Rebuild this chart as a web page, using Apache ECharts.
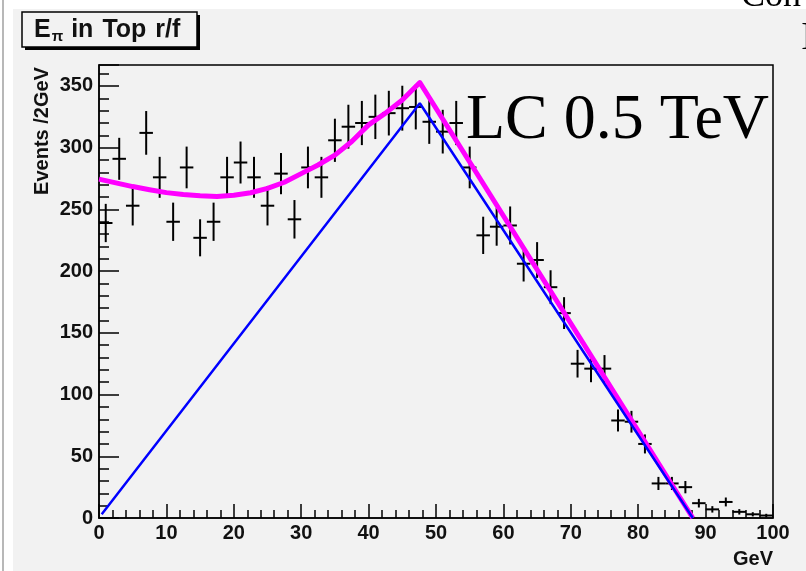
<!DOCTYPE html>
<html>
<head>
<meta charset="utf-8">
<script src="https://cdn.jsdelivr.net/npm/echarts@6/dist/echarts.min.js"></script>
<style>
  html,body{margin:0;padding:0;background:#fff;}
  #wrap{position:relative;width:806px;height:571px;overflow:hidden;background:#fff;}
  #bg{position:absolute;left:13px;top:9px;width:793px;height:562px;background:#f2f2f2;}
  #vline{position:absolute;left:2px;top:0;width:2px;height:571px;background:#b8b8b8;}
  #chart{position:absolute;left:0;top:0;width:806px;height:571px;}
</style>
</head>
<body>
<div id="wrap">
  <div id="bg"></div>
  <div id="vline"></div>
  <div id="chart"></div>
</div>
<script>
// ---- data ----
const binWidth = 2;
const binCenters = [1,3,5,7,9,11,13,15,17,19,21,23,25,27,29,31,33,35,37,39,41,43,45,47,49,
                    51,53,55,57,59,61,63,65,67,69,71,73,75,77,79,81,83,85,87,89,91,93,95,97,99];
const counts = [239,291,253,312,276,240,284,227,240,276,288,276,253,279,242,284,276,306,317,320,325,328,332,333,321,
                313,320,284,229,236,237,206,209,187,166,125,121,121,79,78,60,28,28,25,12,7,13,5,3,2];
const errors = [15.5,17,16,17.7,16.6,15.5,16.9,15,15.5,16.6,17,16.6,16,16.7,15.6,16.9,16.6,17.5,17.8,17.9,18,18.1,18.2,18.2,17.9,
                17.7,17.9,16.9,15.1,15.4,15.4,14.4,14.5,13.7,12.9,11.2,11,11,8.9,8.8,7.7,5.3,5.3,5,3.5,2.6,3.6,2.2,1.7,1.4];
const fitX = [0,2.5,5,7.5,10,12.5,15,17.5,20,22.5,25,27.5,30,32.5,35,37.5,40,42.5,45,47.6,88.1];
const fitY = [274.5,271.5,268.5,266,263.6,262,261,260.5,261.5,263.5,267,272,279,286,294,305,318.5,328,338.7,352.8,0];
const sigX = [0.4,47.6,88.1];
const sigY = [3,336,0];
const xTicks = {min:0, max:100, major:10, minor:2};
const yTicks = {min:0, max:367, major:50, minor:10};

const crossData = binCenters.map((c,i)=>[c, counts[i], errors[i]]);
const fitData = fitX.map((x,i)=>[x, fitY[i]]);
const sigData = sigX.map((x,i)=>[x, sigY[i]]);

const chart = echarts.init(document.getElementById('chart'), null, {renderer:'canvas'});
const labelFont = {fontFamily:'Liberation Sans', fontWeight:'bold', fontSize:20, color:'#111'};

const option = {
  backgroundColor:'transparent',
  animation:false,
  grid:{left:99, right:33, top:65, bottom:53, show:true, borderColor:'#000', borderWidth:1.5, backgroundColor:'transparent'},
  xAxis:[{
    type:'value', min:xTicks.min, max:xTicks.max, interval:xTicks.major, position:'bottom',
    axisLine:{show:true, onZero:false, lineStyle:{color:'#000', width:1.5}},
    axisTick:{show:true, inside:true, length:14, lineStyle:{color:'#000', width:1.5}},
    minorTick:{show:true, splitNumber:xTicks.major/xTicks.minor, length:8, lineStyle:{color:'#000', width:1.5}},
    splitLine:{show:false},
    axisLabel:Object.assign({margin:5}, labelFont)
  }],
  yAxis:[{
    type:'value', min:yTicks.min, max:yTicks.max, interval:yTicks.major, position:'left',
    axisLine:{show:true, onZero:false, lineStyle:{color:'#000', width:1.5}},
    axisTick:{show:true, inside:true, length:20, lineStyle:{color:'#000', width:1.5}},
    splitLine:{show:false},
    axisLabel:Object.assign({margin:6, formatter:v=> (v % yTicks.major === 0 ? String(v) : '')}, labelFont)
  },{
    type:'value', min:yTicks.min, max:yTicks.max, interval:yTicks.minor, position:'left', offset:0,
    axisLine:{show:false},
    axisTick:{show:true, inside:true, length:10, lineStyle:{color:'#000', width:1.5}},
    splitLine:{show:false},
    axisLabel:{show:false}
  }],
  series:[{
    type:'custom', xAxisIndex:0, yAxisIndex:0, data:crossData, z:3,
    renderItem:function(params, api){
      const x = api.value(0), y = api.value(1), e = api.value(2);
      const l = api.coord([x-binWidth/2, y]), r = api.coord([x+binWidth/2, y]);
      const t = api.coord([x, y+e]), b = api.coord([x, Math.max(0, y-e)]);
      return {type:'group', children:[
        {type:'line', shape:{x1:l[0],y1:l[1],x2:r[0],y2:r[1]}, style:{stroke:'#000', lineWidth:2}},
        {type:'line', shape:{x1:t[0],y1:t[1],x2:b[0],y2:b[1]}, style:{stroke:'#000', lineWidth:2}}
      ]};
    }
  },{
    type:'line', data:fitData, symbol:'none', z:4,
    lineStyle:{color:'#ff00ff', width:5, join:'round'}
  },{
    type:'line', data:sigData, symbol:'none', z:5,
    lineStyle:{color:'#0000ff', width:2.5}
  }],
  graphic:[
    {type:'rect', shape:{x:25, y:15, width:175, height:35}, style:{fill:'#000'}, z:10},
    {type:'rect', shape:{x:22, y:12, width:175, height:35}, style:{fill:'#f2f2f2', stroke:'#000', lineWidth:1.5}, z:11},
    {type:'text', x:34, y:30, z:12, style:{
      text:'{e|E}{s|π}{w|in}{w|Top}{w|r/f}', verticalAlign:'middle', align:'left',
      rich:{e:{fontFamily:'Liberation Sans', fontWeight:'bold', fontSize:25, fill:'#111'},
            s:{fontFamily:'Liberation Sans', fontWeight:'bold', fontSize:15, fill:'#111', padding:[14,8,0,1]},
            w:{fontFamily:'Liberation Sans', fontWeight:'bold', fontSize:25, fill:'#111', padding:[0,9,0,0]}}
    }},
    {type:'text', x:42, y:131, rotation:Math.PI/2, z:12, style:{
      text:'Events /2GeV', fontFamily:'Liberation Sans', fontWeight:'bold', fontSize:20, fill:'#111',
      align:'center', verticalAlign:'middle'}},
    {type:'text', x:773, y:559, z:12, style:{
      text:'GeV', fontFamily:'Liberation Sans', fontWeight:'bold', fontSize:20, fill:'#111',
      align:'right', verticalAlign:'middle'}},
    {type:'text', x:466, y:121, z:12, style:{
      text:'LC 0.5 TeV', fontFamily:'Liberation Serif', fontSize:64, fill:'#000',
      align:'left', verticalAlign:'middle'}},
    {type:'text', x:741, y:-3, z:12, style:{
      text:'Con', fontFamily:'Liberation Serif', fontSize:36, fill:'#000',
      align:'left', verticalAlign:'middle'}},
    {type:'text', x:801, y:38, z:12, style:{
      text:'I', fontFamily:'Liberation Serif', fontSize:40, fill:'#000',
      align:'left', verticalAlign:'middle'}}
  ]
};
chart.setOption(option);
</script>
</body>
</html>
